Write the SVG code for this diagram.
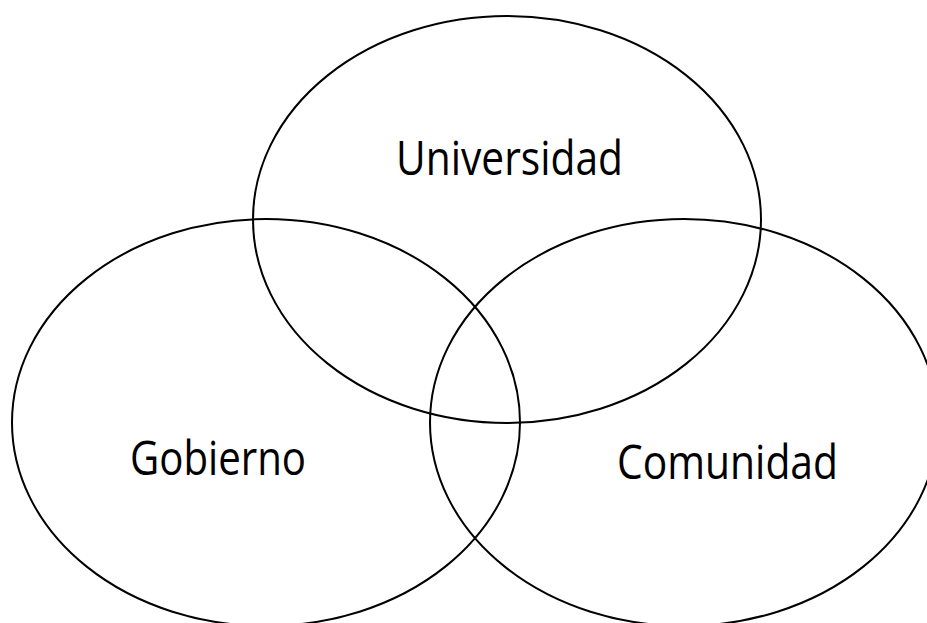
<svg xmlns="http://www.w3.org/2000/svg" width="927" height="623" viewBox="0 0 927 623">
<style>
.set{fill:none;stroke:#000;stroke-width:2}
.lbl{font-family:"Open Sans","Noto Sans","Liberation Sans",sans-serif;font-size:47px;fill:#000}
</style>
<rect width="927" height="623" fill="#fff"/>
<g id="universidad">
<ellipse class="set" cx="507" cy="219.5" rx="254" ry="203.5"/>
<text class="lbl" x="396" y="175" textLength="227" lengthAdjust="spacingAndGlyphs">Universidad</text>
</g>
<g id="gobierno">
<ellipse class="set" cx="266" cy="422.5" rx="254" ry="203.5"/>
<text class="lbl" x="130" y="475" textLength="176" lengthAdjust="spacingAndGlyphs">Gobierno</text>
</g>
<g id="comunidad">
<ellipse class="set" cx="684" cy="422.5" rx="254" ry="203.5"/>
<text class="lbl" x="617" y="479" textLength="221" lengthAdjust="spacingAndGlyphs">Comunidad</text>
</g>
<g id="connectors"/>
</svg>
